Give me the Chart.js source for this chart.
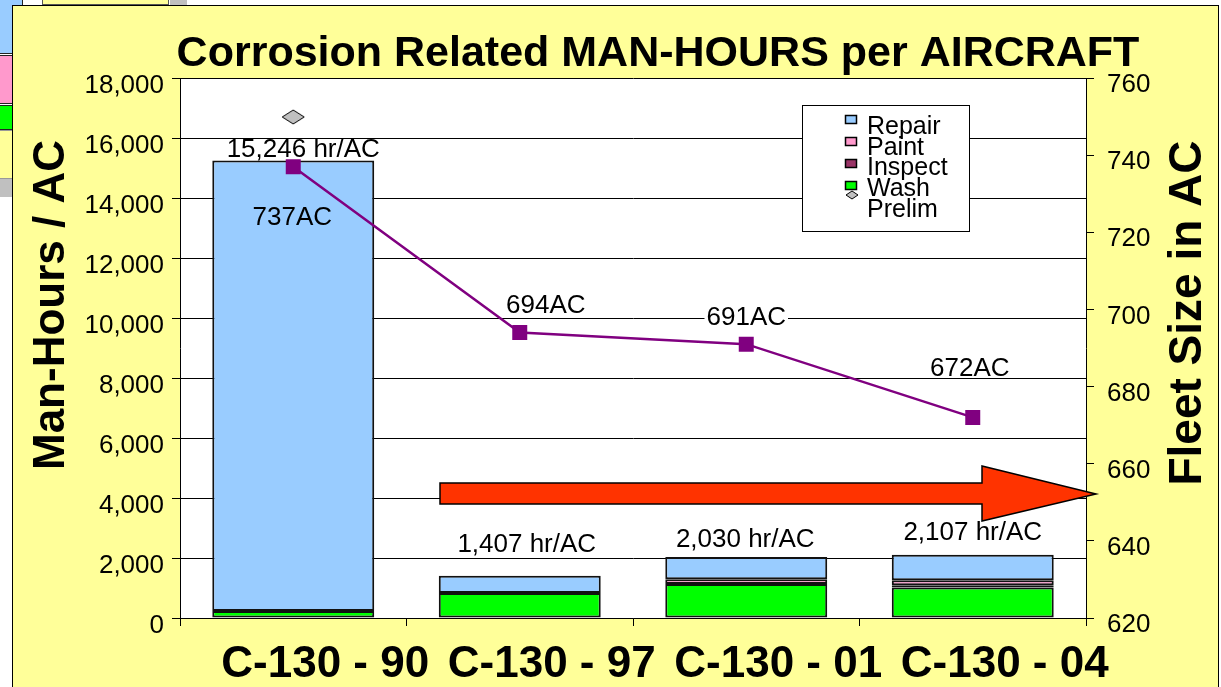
<!DOCTYPE html>
<html>
<head>
<meta charset="utf-8">
<title>Corrosion Related MAN-HOURS per AIRCRAFT</title>
<script src="https://cdn.jsdelivr.net/npm/chart.js"></script>
<style>
  body { margin: 0; width: 1221px; height: 687px; overflow: hidden; position: relative; background: #fff;
         font-family: "Liberation Sans", Arial, sans-serif; }
  .frag { position: absolute; box-sizing: border-box; border: 1px solid #222; }
  #panel { position: absolute; left: 12px; top: 5px; width: 1207px; height: 700px; background: #FFFF99;
           border: 1px solid #000; box-sizing: border-box; }
  #wrap { position: absolute; left: 0; top: 0; width: 1221px; height: 687px; }
</style>
</head>
<body>
  <!-- bits of the slide underneath -->
  <div class="frag" style="left:-2px;top:-2px;width:25px;height:56px;background:#99CCFF;"></div>
  <div class="frag" style="left:-2px;top:55px;width:20px;height:49px;background:#FF99CC;"></div>
  <div class="frag" style="left:-2px;top:105px;width:20px;height:25px;background:#00FF00;"></div>
  <div class="frag" style="left:-2px;top:130px;width:20px;height:49px;background:#FFFF99;border-color:#999;"></div>
  <div style="position:absolute;left:0;top:179px;width:12px;height:18px;background:#C0C0C0;"></div>
  <div class="frag" style="left:42px;top:-20px;width:127px;height:25px;background:#FFFF99;border-color:#555;"></div>
  <div style="position:absolute;left:170px;top:0;width:17px;height:5px;background:#C0C0C0;"></div>
  <div id="panel"></div>
  <div id="wrap"><canvas id="myChart"></canvas></div>

<script>
// data
const categories = ['C-130 - 90', 'C-130 - 97', 'C-130 - 01', 'C-130 - 04'];
const washHours = [230, 830, 1130, 1020];
const inspectHours = [0, 0, 0, 70];
const paintHours = [0, 0, 160, 167];
const repairHours = [15016, 577, 740, 850];
const prelimHours = [16700, null, null, null];
const fleetSize = [737, 694, 691, 672];
const hoursRange = [0, 18000, 2000];
const fleetRange = [620, 760, 20];

const FONT = '"Liberation Sans", Arial, sans-serif';

// flattened grey diamond used for "Prelim"
function diamond(w, h) {
    var c = document.createElement('canvas');
    c.width = w + 2;
    c.height = h + 2;
    var g = c.getContext('2d');
    g.beginPath();
    g.moveTo(w / 2 + 1, 1);
    g.lineTo(w + 1, h / 2 + 1);
    g.lineTo(w / 2 + 1, h + 1);
    g.lineTo(1, h / 2 + 1);
    g.closePath();
    g.fillStyle = '#C0C0C0';
    g.fill();
    g.strokeStyle = '#000';
    g.lineWidth = 1;
    g.stroke();
    return c;
}
var bigDiamond = diamond(22, 14);
var smallDiamond = diamond(12, 8);

var legendItems = [
    { label: 'Repair', color: '#99CCFF' },
    { label: 'Paint', color: '#FF99CC' },
    { label: 'Inspect', color: '#993366' },
    { label: 'Wash', color: '#00FF00' },
    { label: 'Prelim', color: null }
];

// label nudges (pixels), as placed on the slide
var totalLabelDx = [10, 7, -1, 0];
var totalLabelDy = [-11, -31, -17, -22];
var fleetLabelDx = [-1, 26, 0, -3];
var fleetLabelDy = [51, -27, -26, -49];

var decor = {
    id: 'decor',
    beforeDraw(chart) {
        var a = chart.chartArea, ctx = chart.ctx;
        ctx.save();
        ctx.fillStyle = '#fff';
        ctx.fillRect(a.left, a.top, a.right - a.left, a.bottom - a.top);
        ctx.restore();
    },
    afterDraw(chart) {
        var ctx = chart.ctx, y = chart.scales.y;
        ctx.save();

        // totals above bars
        var bars = chart.getDatasetMeta(3).data;
        ctx.font = '26px ' + FONT;
        ctx.fillStyle = '#000';
        ctx.textAlign = 'center';
        ctx.textBaseline = 'middle';
        categories.forEach(function (c, i) {
            var total = washHours[i] + inspectHours[i] + paintHours[i] + repairHours[i];
            ctx.fillText(total.toLocaleString('en-US') + ' hr/AC',
                bars[i].x + totalLabelDx[i], y.getPixelForValue(total) + totalLabelDy[i]);
        });

        // fleet size labels
        var pts = chart.getDatasetMeta(4).data;
        fleetSize.forEach(function (v, i) {
            var t = v + 'AC';
            var tx = pts[i].x + fleetLabelDx[i], ty = pts[i].y + fleetLabelDy[i];
            if (i === 2) {
                var w = ctx.measureText(t).width;
                ctx.fillStyle = '#fff';
                ctx.fillRect(tx - w / 2 - 2, ty - 11, w + 4, 22);
                ctx.fillStyle = '#000';
            }
            ctx.fillText(t, tx, ty);
        });

        // big red arrow
        ctx.beginPath();
        ctx.moveTo(440, 483);
        ctx.lineTo(982, 483);
        ctx.lineTo(982, 466);
        ctx.lineTo(1096, 494);
        ctx.lineTo(982, 521);
        ctx.lineTo(982, 504);
        ctx.lineTo(440, 504);
        ctx.closePath();
        ctx.fillStyle = '#FF3300';
        ctx.fill();
        ctx.strokeStyle = '#000';
        ctx.lineWidth = 1.5;
        ctx.stroke();

        // legend
        ctx.fillStyle = '#fff';
        ctx.fillRect(802, 105, 167, 126);
        ctx.strokeStyle = '#000';
        ctx.lineWidth = 1;
        ctx.strokeRect(802.5, 105.5, 167, 126);
        ctx.font = '25px ' + FONT;
        ctx.textAlign = 'left';
        ctx.textBaseline = 'alphabetic';
        legendItems.forEach(function (it, i) {
            var my = 119 + i * 22;
            if (it.color) {
                ctx.fillStyle = it.color;
                ctx.fillRect(845, my - 4, 12, 9);
                ctx.strokeStyle = '#000';
                ctx.lineWidth = 1.5;
                ctx.strokeRect(845.5, my - 3.5, 11, 8);
            } else {
                ctx.drawImage(smallDiamond, 845, my - 17);
            }
            ctx.fillStyle = '#000';
            ctx.fillText(it.label, 867, 134 + i * 20.7);
        });

        // title and axis titles
        ctx.font = 'bold 43px ' + FONT;
        ctx.textAlign = 'center';
        ctx.fillText('Corrosion Related MAN-HOURS per AIRCRAFT', 658, 66);

        ctx.font = 'bold 44px ' + FONT;
        ctx.textBaseline = 'middle';
        ctx.translate(52, 305);
        ctx.rotate(-Math.PI / 2);
        ctx.fillText('Man-Hours / AC', 0, 0);
        ctx.setTransform(1, 0, 0, 1, 0, 0);
        ctx.font = 'bold 46px ' + FONT;
        ctx.translate(1188, 313);
        ctx.rotate(-Math.PI / 2);
        ctx.fillText('Fleet Size in AC', 0, 0);
        ctx.restore();
    }
};

var ctx = document.getElementById('myChart').getContext('2d');
var myChart = new Chart(ctx, {
    data: {
        labels: categories,
        datasets: [
            { type: 'bar', label: 'Wash', data: washHours, backgroundColor: '#00FF00' },
            { type: 'bar', label: 'Inspect', data: inspectHours, backgroundColor: '#993366' },
            { type: 'bar', label: 'Paint', data: paintHours, backgroundColor: '#FF99CC' },
            { type: 'bar', label: 'Repair', data: repairHours, backgroundColor: '#99CCFF' },
            {
                type: 'line', label: 'Fleet', data: fleetSize, yAxisID: 'y1', order: 0,
                borderColor: '#800080', backgroundColor: '#800080', borderWidth: 2.5,
                pointStyle: 'rect', pointRadius: 10.6, pointBorderWidth: 0, tension: 0
            },
            {
                type: 'line', label: 'Prelim', data: prelimHours, yAxisID: 'y', stack: 'prelim', order: 0,
                showLine: false, pointStyle: bigDiamond, pointRadius: 8
            }
        ].map(function (d) {
            if (d.type === 'bar') {
                Object.assign(d, { yAxisID: 'y', stack: 'hours', order: 2, borderColor: '#111',
                    borderWidth: 2, borderSkipped: false, categoryPercentage: 0.715, barPercentage: 1 });
            }
            return d;
        })
    },
    options: {
        responsive: true,
        maintainAspectRatio: false,
        animation: false,
        locale: 'en-US',
        layout: { padding: { top: 78, left: 0, right: 0, bottom: 0 } },
        plugins: { legend: { display: false }, tooltip: { enabled: false } },
        scales: {
            x: {
                stacked: true,
                grid: { drawOnChartArea: false, color: '#000', tickLength: 8 },
                border: { color: '#000', width: 1 },
                ticks: { color: '#000', font: { family: FONT, size: 44, weight: 'bold' }, padding: 12,
                         labelOffset: 32, maxRotation: 0, autoSkip: false },
                afterFit: function (s) { s.height = 69; }
            },
            y: {
                stacked: true,
                min: hoursRange[0], max: hoursRange[1],
                grid: { color: '#000', lineWidth: 1, tickLength: 8 },
                border: { color: '#000', width: 1 },
                ticks: { stepSize: hoursRange[2], color: '#000', font: { family: FONT, size: 26 },
                         padding: 8, labelOffset: 8 },
                afterFit: function (s) { s.width = 180; }
            },
            y1: {
                position: 'right',
                min: fleetRange[0], max: fleetRange[1],
                grid: { drawOnChartArea: false, color: '#000', tickLength: 8 },
                border: { color: '#000', width: 1 },
                ticks: { stepSize: fleetRange[2], color: '#000', font: { family: FONT, size: 26 },
                         padding: 13, labelOffset: 7 },
                afterFit: function (s) { s.width = 135; }
            }
        }
    },
    plugins: [decor]
});
</script>
</body>
</html>
